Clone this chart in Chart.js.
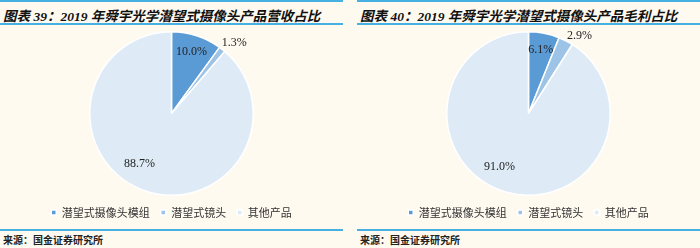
<!DOCTYPE html>
<html>
<head>
<meta charset="utf-8">
<script src="https://cdn.jsdelivr.net/npm/chart.js@4.4.0/dist/chart.umd.min.js"></script>
<style>
  body { margin: 0; background: #fffaf0; width: 700px; height: 248px; overflow: hidden; }
  .panel { position: absolute; top: 0; width: 343px; height: 248px; }
  .line { position: absolute; left: 0; width: 343px; height: 2px; background: #47b0e2; }
  .title { position: absolute; left: 3px; top: 5px; font: italic bold 13.5px "Liberation Serif", "Noto Sans CJK SC", serif; color: #111; white-space: nowrap; }
  .title .cjk { font-family: "Noto Sans CJK SC", serif; }
  .source { position: absolute; left: 3px; top: 232px; font: bold 10px "Noto Sans CJK SC", serif; color: #222; }
  .chartbox { position: absolute; left: 0; top: 26px; width: 343px; height: 202px; }
</style>
</head>
<body>
<div class="panel" style="left:0">
  <div class="line" style="top:0"></div>
  <div class="title"><span class="cjk">图表</span> 39<span class="cjk">：</span>2019 <span class="cjk">年舜宇光学潜望式摄像头产品营收占比</span></div>
  <div class="line" style="top:23px"></div>
  <div class="chartbox"><canvas id="pieRevenue"></canvas></div>
  <div class="line" style="top:229px"></div>
  <div class="source">来源：国金证券研究所</div>
</div>
<div class="panel" style="left:357px">
  <div class="line" style="top:0"></div>
  <div class="title"><span class="cjk">图表</span> 40<span class="cjk">：</span>2019 <span class="cjk">年舜宇光学潜望式摄像头产品毛利占比</span></div>
  <div class="line" style="top:23px"></div>
  <div class="chartbox"><canvas id="pieProfit"></canvas></div>
  <div class="line" style="top:229px"></div>
  <div class="source">来源：国金证券研究所</div>
</div>
<script>
const categories = ["潜望式摄像头模组", "潜望式镜头", "其他产品"];
const revenueShare = [10.0, 1.3, 88.7];
const profitShare = [6.1, 2.9, 91.0];
const sliceColors = ["#5b9bd5", "#9dc3e6", "#deebf7"];

// draws the percentage next to each slice
const sliceLabels = {
    id: "sliceLabels",
    afterDatasetsDraw(chart, args, opts) {
        const ctx = chart.ctx;
        const values = chart.data.datasets[0].data;
        ctx.save();
        ctx.font = "12px 'Liberation Serif', serif";
        ctx.fillStyle = "#222";
        ctx.textAlign = "center";
        ctx.textBaseline = "middle";
        chart.getDatasetMeta(0).data.forEach((arc, i) => {
            const p = arc.getProps(["x", "y", "startAngle", "endAngle", "outerRadius"], true);
            const mid = (p.startAngle + p.endAngle) / 2;
            const d = p.outerRadius * opts.radius[i];
            const nudge = opts.nudge[i];
            const x = p.x + Math.cos(mid) * d + nudge[0];
            const y = p.y + Math.sin(mid) * d + nudge[1];
            ctx.fillText(values[i].toFixed(1) + "%", x, y);
        });
        ctx.restore();
    }
};

const makePie = (id, values, nudge) => {
    new Chart(document.getElementById(id), {
        type: "pie",
        data: {
            labels: categories,
            datasets: [{
                data: values,
                backgroundColor: sliceColors,
                borderColor: "#ffffff",
                borderWidth: 1.5
            }]
        },
        options: {
            responsive: true,
            maintainAspectRatio: false,
            animation: false,
            layout: { padding: { top: 5 } },
            plugins: {
                tooltip: { enabled: false },
                legend: {
                    position: "bottom",
                    labels: {
                        usePointStyle: true,
                        pointStyle: "rect",
                        boxWidth: 5,
                        boxHeight: 5,
                        padding: 11,
                        color: "#333",
                        font: { family: "'Noto Sans CJK SC', serif", size: 11 }
                    }
                },
                sliceLabels: { radius: [0.79, 1.1, 0.7], nudge: nudge }
            }
        },
        plugins: [sliceLabels]
    });
};

makePie("pieRevenue", revenueShare, [[0, 0], [7, 0], [-12, -3]]);
makePie("pieProfit", profitShare, [[0, 0], [10, 2], [-13, -2]]);
</script>
</body>
</html>
